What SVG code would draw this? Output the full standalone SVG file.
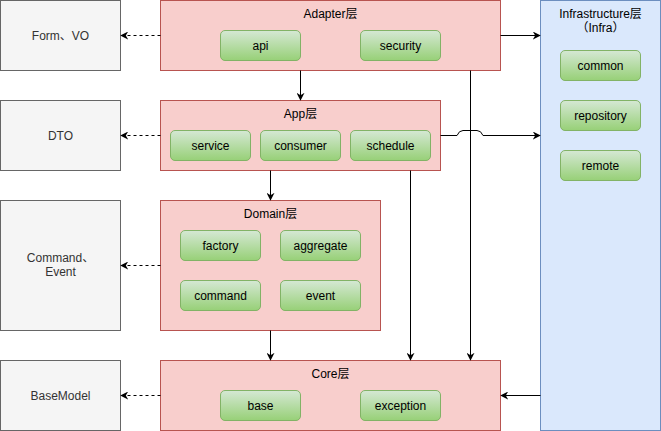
<svg xmlns="http://www.w3.org/2000/svg" width="661" height="431" viewBox="0 0 661 431">
<defs>
<linearGradient id="g" x1="0" y1="0" x2="0" y2="1"><stop offset="0" stop-color="#d5e8d4"/><stop offset="1" stop-color="#97d077"/></linearGradient>
<marker id="a" viewBox="0 0 10 10" refX="9" refY="5" markerWidth="8" markerHeight="8" markerUnits="userSpaceOnUse" orient="auto"><path d="M0,0 L10,5 L0,10 L3,5 Z" fill="#000"/></marker>
<style>
text{font-family:"Liberation Sans","Noto Sans CJK SC",Arial,sans-serif;font-size:12px;text-anchor:middle;fill:#000}
.grey rect{fill:#f5f5f5;stroke:#666;stroke-width:1}
.grey text{fill:#333}
.layer{fill:#f8cecc;stroke:#b85450;stroke-width:1}
.infra{fill:#dae8fc;stroke:#6c8ebf;stroke-width:1}
.btn{fill:url(#g);stroke:#82b366;stroke-width:1}
.c path{fill:none;stroke:#000;stroke-width:1;marker-end:url(#a)}
.c .d{stroke-dasharray:3 3}
</style>
</defs>
<g id="form-vo" class="grey"><rect x="0.5" y="0.5" width="120" height="70"/><text x="60.5" y="40">Form、VO</text></g>
<g id="dto" class="grey"><rect x="0.5" y="100.5" width="120" height="70"/><text x="60.5" y="140">DTO</text></g>
<g id="command-event" class="grey"><rect x="0.5" y="200.5" width="120" height="130"/><text x="60.5" y="262">Command、</text><text x="60.5" y="276">Event</text></g>
<g id="basemodel" class="grey"><rect x="0.5" y="360.5" width="120" height="70"/><text x="60.5" y="400">BaseModel</text></g>

<g id="adapter"><rect class="layer" x="160.5" y="0.5" width="340" height="70"/><text x="330.5" y="18">Adapter层</text>
<rect class="btn" x="220.5" y="30.5" width="80" height="30" rx="4.5"/><text x="260.5" y="50">api</text>
<rect class="btn" x="360.5" y="30.5" width="80" height="30" rx="4.5"/><text x="400.5" y="50">security</text></g>

<g id="app"><rect class="layer" x="160.5" y="100.5" width="280" height="70"/><text x="300.5" y="118">App层</text>
<rect class="btn" x="170.5" y="130.5" width="80" height="30" rx="4.5"/><text x="210.5" y="150">service</text>
<rect class="btn" x="260.5" y="130.5" width="80" height="30" rx="4.5"/><text x="300.5" y="150">consumer</text>
<rect class="btn" x="350.5" y="130.5" width="80" height="30" rx="4.5"/><text x="390.5" y="150">schedule</text></g>

<g id="domain"><rect class="layer" x="160.5" y="200.5" width="220" height="130"/><text x="270.5" y="218">Domain层</text>
<rect class="btn" x="180.5" y="230.5" width="80" height="30" rx="4.5"/><text x="220.5" y="250">factory</text>
<rect class="btn" x="280.5" y="230.5" width="80" height="30" rx="4.5"/><text x="320.5" y="250">aggregate</text>
<rect class="btn" x="180.5" y="280.5" width="80" height="30" rx="4.5"/><text x="220.5" y="300">command</text>
<rect class="btn" x="280.5" y="280.5" width="80" height="30" rx="4.5"/><text x="320.5" y="300">event</text></g>

<g id="core"><rect class="layer" x="160.5" y="360.5" width="340" height="70"/><text x="330.5" y="378">Core层</text>
<rect class="btn" x="220.5" y="390.5" width="80" height="30" rx="4.5"/><text x="260.5" y="410">base</text>
<rect class="btn" x="360.5" y="390.5" width="80" height="30" rx="4.5"/><text x="400.5" y="410">exception</text></g>

<g id="infra"><rect class="infra" x="540.5" y="0.5" width="120" height="430"/><text x="600.5" y="18">Infrastructure层</text><text x="600.5" y="32">（Infra）</text>
<rect class="btn" x="560.5" y="50.5" width="80" height="30" rx="4.5"/><text x="600.5" y="70">common</text>
<rect class="btn" x="560.5" y="100.5" width="80" height="30" rx="4.5"/><text x="600.5" y="120">repository</text>
<rect class="btn" x="560.5" y="150.5" width="80" height="30" rx="4.5"/><text x="600.5" y="170">remote</text></g>

<g id="connectors" class="c">
<path class="d" d="M160.5 35.5 H121"/>
<path class="d" d="M160.5 135.5 H121"/>
<path class="d" d="M160.5 265.5 H121"/>
<path class="d" d="M160.5 395.5 H121"/>
<path d="M300.5 70.5 V100"/>
<path d="M270.5 170.5 V200"/>
<path d="M270.5 330.5 V360"/>
<path d="M470.5 70.5 V360"/>
<path d="M410.5 170.5 V360"/>
<path d="M500.5 35.5 H540"/>
<path d="M440.5 135.5 H457 Q459 130.5 463 130.5 H477 Q481 130.5 483 135.5 H540"/>
<path d="M540.5 395.5 H501"/>
</g>
</svg>
